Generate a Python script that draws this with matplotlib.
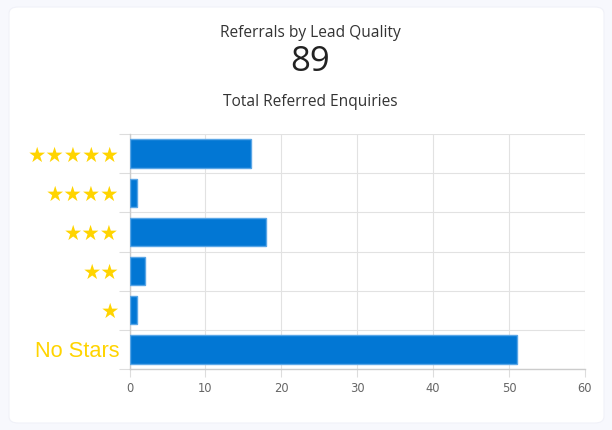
import matplotlib
matplotlib.use("Agg")
import matplotlib.pyplot as plt
from matplotlib.patches import FancyBboxPatch

categories = ["★★★★★", "★★★★", "★★★", "★★", "★", "No Stars"]
values = [16, 1, 18, 2, 1, 51]
x_ticks = [0, 10, 20, 30, 40, 50, 60]
title = "Referrals by Lead Quality"
total_label = "89"
subtitle = "Total Referred Enquiries"

W, H = 612, 430
fig = plt.figure(figsize=(W / 100, H / 100), dpi=100)
fig.patch.set_facecolor("#f7f8fd")

card = FancyBboxPatch((9 / W, 7 / H), (604 - 9) / W, (423 - 7) / H,
                      boxstyle="round,pad=0,rounding_size=0.015",
                      transform=fig.transFigure, facecolor="white",
                      edgecolor="#f0f1f8", linewidth=0.8, zorder=-5)
fig.patches.append(card)

fig.text(310 / W, 1 - 33 / H, title, ha="center", va="center",
         fontsize=11.2, color="#333333", family="Open Sans")
fig.text(310 / W, 1 - 62 / H, total_label, ha="center", va="center",
         fontsize=25, color="#222222", family="Open Sans")
fig.text(310 / W, 1 - 102 / H, subtitle, ha="center", va="center",
         fontsize=11.2, color="#333333", family="Open Sans")

ax = fig.add_axes([129.5 / W, 1 - 369 / H, (585 - 129.5) / W, (369 - 134) / H])
ax.set_zorder(2)
ax.set_facecolor("white")

y = list(range(len(categories)))
ax.barh(y, values, height=0.72, color="#0277d4", edgecolor="#5aa6e6",
        linewidth=1.0, zorder=3)

ax.set_xlim(0, 60)
ax.set_ylim(len(categories) - 0.5, -0.5)
ax.set_xticks(x_ticks)
ax.set_xticklabels([str(t) for t in x_ticks], fontsize=8.3, color="#666666",
                   family="DejaVu Sans")
ax.set_yticks(y)
labels = ax.set_yticklabels(categories, color="#ffd400", family="DejaVu Sans")
for lab, cat in zip(labels, categories):
    lab.set_fontsize(15.7 if cat == "No Stars" else 14.8)
    if cat == "No Stars":
        lab.set_family(["Liberation Sans", "DejaVu Sans"])

ax.set_yticks([i - 0.5 for i in range(len(categories) + 1)], minor=True)
ax.tick_params(axis="y", which="major", length=0, pad=7.5)
ax.tick_params(axis="y", which="minor", length=8, color="#dddddd", width=0.8)
ax.tick_params(axis="x", which="major", length=6, color="#dddddd", width=0.8,
               pad=3)

ax.grid(True, axis="x", color="#e2e2e2", linewidth=0.8, zorder=0)
ax.grid(True, axis="y", which="minor", color="#e2e2e2", linewidth=0.8, zorder=0)
ax.set_axisbelow(True)

for s in ["top", "right"]:
    ax.spines[s].set_visible(False)
for s in ["left", "bottom"]:
    ax.spines[s].set_color("#cccccc")
    ax.spines[s].set_linewidth(1.0)

fig.savefig("out.png", dpi=100, facecolor=fig.get_facecolor())
